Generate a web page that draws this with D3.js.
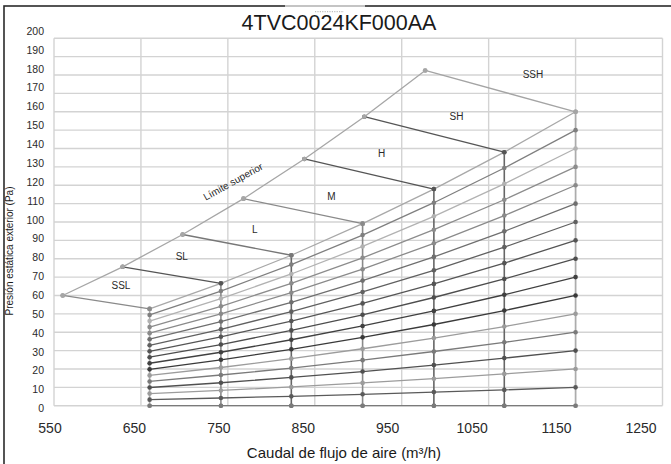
<!DOCTYPE html>
<html>
<head>
<meta charset="utf-8">
<script src="https://cdn.jsdelivr.net/npm/d3@7"></script>
<style>
  html, body { margin: 0; padding: 0; background: #fff; }
  svg { display: block; font-family: "Liberation Sans", Arial, sans-serif; }
</style>
</head>
<body>
<svg id="chart" width="671" height="464"></svg>
<script>
// Fan performance chart: external static pressure vs. air flow

const xTicks = [550, 650, 750, 850, 950, 1050, 1150, 1250];
const yTicks = [0, 10, 20, 30, 40, 50, 60, 70, 80, 90, 100, 110, 120, 130, 140, 150, 160, 170, 180, 190, 200];

// flow stations where the system curves are sampled (m3/h)
const flowPoints = [660, 742, 823, 905, 987, 1068, 1150];

// system curves, named by their pressure at 1150 m3/h
const curveTop = [160, 150, 140, 130, 120, 110, 100, 90, 80, 70, 60, 50, 40, 30, 20, 10, 0];
const curveValues = [
  [52.7, 66.6, 81.9, 99.1, 117.9, 138.0, 160],
  [49.4, 62.4, 76.8, 92.9, 110.5, 129.4, 150],
  [46.1, 58.3, 71.7, 86.7, 103.1, 120.8, 140],
  [42.8, 54.1, 66.6, 80.5, 95.8, 112.1, 130],
  [39.5, 50.0, 61.5, 74.3, 88.4, 103.5, 120],
  [36.2, 45.8, 56.3, 68.1, 81.0, 94.9, 110],
  [32.9, 41.6, 51.2, 61.9, 73.7, 86.3, 100],
  [29.6, 37.5, 46.1, 55.7, 66.3, 77.6, 90],
  [26.4, 33.3, 41.0, 49.5, 58.9, 69.0, 80],
  [23.1, 29.1, 35.9, 43.4, 51.6, 60.4, 70],
  [19.8, 25.0, 30.7, 37.2, 44.2, 51.8, 60],
  [16.5, 20.8, 25.6, 31.0, 36.8, 43.1, 50],
  [13.2, 16.7, 20.5, 24.8, 29.5, 34.5, 40],
  [9.9, 12.5, 15.4, 18.6, 22.1, 25.9, 30],
  [6.6, 8.3, 10.2, 12.4, 14.7, 17.3, 20],
  [3.3, 4.2, 5.1, 6.2, 7.4, 8.6, 10],
  [0, 0, 0, 0, 0, 0, 0]
];
const curveColors = [
  "#a8a8a8", "#7f7f7f", "#b2b2b2", "#8c8c8c", "#8a8a8a", "#6f6f6f", "#606060", "#555555",
  "#4d4d4d", "#404040", "#3a3a3a", "#9c9c9c", "#7a7a7a", "#505050", "#9c9c9c", "#5a5a5a", "#7a7a7a"
];

// vertical station lines (0 up to the top curve)
const stationColors = ["#acacac", "#8a8a8a", "#666666", "#8a8a8a", "#666666", "#666666", "#acacac"];

// upper operating limit
const limitFlow = [560, 629, 698, 768, 838, 907, 977];
const limitPressure = [60, 75.6, 93.2, 112.7, 134.3, 157.3, 182.5];

// fan speed taps, from the upper limit down to the top system curve
const speedNames = ["SSL", "SL", "L", "M", "H", "SH", "SSH"];
const speedEndFlow = [660, 742, 823, 905, 987, 1068, 1150];
const speedEndPressure = [52.7, 66.6, 81.9, 99.1, 117.9, 138.0, 160];
const speedColors = ["#8a8a8a", "#555555", "#777777", "#8a8a8a", "#555555", "#555555", "#a4a4a4"];
const speedLabelFlow = [627, 697, 781, 869, 927, 1013, 1101];
const speedLabelPressure = [65.7, 81.1, 95.9, 113.8, 137.4, 157.2, 180.5];

const svg = d3.select("#chart");

// plot scales
const x = d3.scaleLinear().domain([550, 1250]).range([54, 662.5]);
const y = d3.scaleLinear().domain([0, 200]).range([405.7, 38.3]);
// tick label placement scales
const xLab = d3.scaleLinear().domain([550, 1250]).range([49.5, 640.5]);
const yLab = d3.scaleLinear().domain([0, 200]).range([408.3, 31]);

// outer frame
svg.append("rect")
  .attr("x", 4).attr("y", 6).attr("width", 680).attr("height", 470)
  .attr("fill", "none").attr("stroke", "#2b2b2b").attr("stroke-width", 1.6);
svg.append("line")
  .attr("x1", 285).attr("x2", 365).attr("y1", 6).attr("y2", 6)
  .attr("stroke", "#c4c4c4").attr("stroke-width", 1.8);
svg.append("line")
  .attr("x1", 315).attr("x2", 344).attr("y1", 11.7).attr("y2", 11.7)
  .attr("stroke", "#9a9a9a").attr("stroke-width", 0.8).attr("stroke-dasharray", "1.2,1.2");

// gridlines
const grid = svg.append("g").attr("stroke", "#d3d3d3").attr("stroke-width", 1.4);
grid.selectAll("line.h").data(yTicks).join("line")
  .attr("class", "h")
  .attr("x1", x(550)).attr("x2", x(1250))
  .attr("y1", d => y(d)).attr("y2", d => y(d));
grid.selectAll("line.v").data(xTicks).join("line")
  .attr("class", "v")
  .attr("x1", d => x(d)).attr("x2", d => x(d))
  .attr("y1", y(0)).attr("y2", y(200));

// axes (labels only)
const yAxis = svg.append("g")
  .attr("transform", "translate(44,0)")
  .call(d3.axisLeft(yLab).tickValues(yTicks).tickSize(0).tickPadding(0).tickFormat(d3.format("d")));
yAxis.select(".domain").remove();
yAxis.selectAll("text").attr("font-size", 10.5).attr("fill", "#2a2a2a")
  .attr("font-family", "Liberation Sans, Arial, sans-serif");

const xAxis = svg.append("g")
  .attr("transform", "translate(0,423.5)")
  .call(d3.axisBottom(xLab).tickValues(xTicks).tickSize(0).tickPadding(0).tickFormat(d3.format("d")));
xAxis.select(".domain").remove();
xAxis.selectAll("text").attr("font-size", 14).attr("fill", "#2a2a2a")
  .attr("font-family", "Liberation Sans, Arial, sans-serif");

const line = d3.line().x(d => x(d[0])).y(d => y(d[1]));

function drawSeries(points, color, width) {
  svg.append("path")
    .attr("d", line(points))
    .attr("fill", "none")
    .attr("stroke", color)
    .attr("stroke-width", width);
  svg.append("g").selectAll("circle").data(points).join("circle")
    .attr("cx", d => x(d[0])).attr("cy", d => y(d[1]))
    .attr("r", 2.3).attr("fill", color);
}

// station verticals
flowPoints.forEach((f, i) => {
  drawSeries([[f, 0], [f, curveValues[0][i]]], stationColors[i], 1.6);
});

// system curves, bottom first
for (let k = curveTop.length - 1; k >= 0; k--) {
  drawSeries(flowPoints.map((f, i) => [f, curveValues[k][i]]), curveColors[k], 1.3);
}

// speed tap lines
speedNames.forEach((n, i) => {
  drawSeries([[limitFlow[i], limitPressure[i]], [speedEndFlow[i], speedEndPressure[i]]], speedColors[i], 1.3);
});

// upper limit
drawSeries(limitFlow.map((f, i) => [f, limitPressure[i]]), "#a6a6a6", 1.3);

// speed labels
svg.append("g").selectAll("text").data(speedNames).join("text")
  .attr("x", (d, i) => x(speedLabelFlow[i]))
  .attr("y", (d, i) => y(speedLabelPressure[i]))
  .attr("text-anchor", "middle").attr("dominant-baseline", "central")
  .attr("font-size", 10).attr("fill", "#2a2a2a")
  .text(d => d);

svg.append("text")
  .attr("transform", `translate(${x(756)},${y(122)}) rotate(-29)`)
  .attr("text-anchor", "middle").attr("dominant-baseline", "central")
  .attr("font-size", 10).attr("fill", "#2a2a2a")
  .text("Límite superior");

// title and axis titles
svg.append("text")
  .attr("x", 339).attr("y", 30)
  .attr("text-anchor", "middle")
  .attr("font-size", 21.5).attr("fill", "#1a1a1a")
  .text("4TVC0024KF000AA");

svg.append("text")
  .attr("x", 344).attr("y", 458)
  .attr("text-anchor", "middle")
  .attr("font-size", 15).attr("fill", "#1a1a1a")
  .text("Caudal de flujo de aire (m³/h)");

svg.append("text")
  .attr("transform", "translate(12.5,251) rotate(-90)")
  .attr("text-anchor", "middle")
  .attr("font-size", 10).attr("fill", "#1a1a1a")
  .text("Presión estática exterior (Pa)");
</script>
</body>
</html>
